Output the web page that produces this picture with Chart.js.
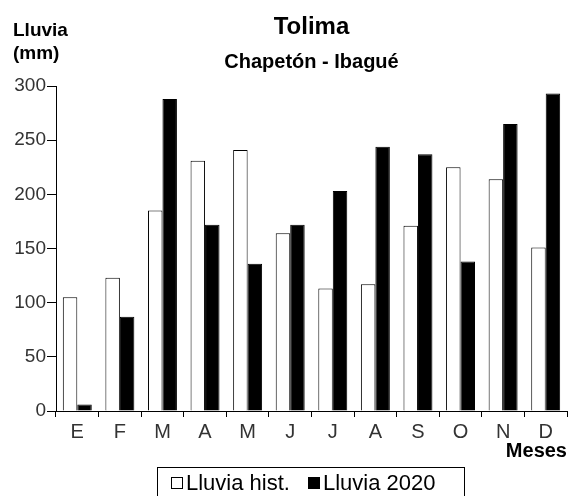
<!DOCTYPE html>
<html>
<head>
<meta charset="utf-8">
<script src="https://cdn.jsdelivr.net/npm/chart.js@4/dist/chart.umd.min.js"></script>
<style>
  html, body { margin: 0; padding: 0; background: #fff; }
  #wrap { position: relative; width: 570px; height: 496px; overflow: hidden; font-family: "Liberation Sans", Arial, sans-serif; }
  #c { position: absolute; left: 0; top: 0; }
  .txt { position: absolute; color: #000; font-weight: bold; white-space: nowrap; line-height: normal; }
  #titulo { left: 56px; width: 511px; top: 12px; text-align: center; font-size: 24px; }
  #subtitulo { left: 56px; width: 511px; top: 50px; text-align: center; font-size: 20px; }
  #ytitulo { left: 13px; top: 18px; font-size: 19px; line-height: 23px; }
  #xtitulo { right: 3px; top: 439px; font-size: 20px; }
  #leyenda { position: absolute; left: 157px; top: 467px; width: 308px; height: 40px; border: 1px solid #000;
             padding: 2px 0 0 13px; box-sizing: border-box; display: flex; align-items: flex-start; }
  .item { display: flex; align-items: center; font-size: 22px; line-height: 26px; margin-right: 18px; color: #000; }
  .caja { width: 12px; height: 12px; box-sizing: border-box; border: 1px solid #000; margin-right: 3px; }
</style>
</head>
<body>
<div id="wrap">
  <canvas id="c" width="570" height="496"></canvas>
  <div class="txt" id="titulo">Tolima</div>
  <div class="txt" id="subtitulo">Chapetón - Ibagué</div>
  <div class="txt" id="ytitulo">Lluvia<br>(mm)</div>
  <div class="txt" id="xtitulo">Meses</div>
  <div id="leyenda"></div>
</div>
<script>
// datos (mm por mes)
const meses = ["E", "F", "M", "A", "M", "J", "J", "A", "S", "O", "N", "D"];
const lluviaHist = [105, 123, 185, 231, 241, 164, 113, 117, 171, 225, 214, 151];
const lluvia2020 = [6, 87, 288, 172, 136, 172, 203, 244, 237, 138, 265, 293];
const yMax = 300;
const yPaso = 50;

const series = [
  { label: "Lluvia hist.", data: lluviaHist, fondo: "#ffffff" },
  { label: "Lluvia 2020", data: lluvia2020, fondo: "#000000" },
];

const fuente = "'Liberation Sans', Arial, sans-serif";

new Chart(document.getElementById("c").getContext("2d"), {
  type: "bar",
  data: {
    labels: meses,
    datasets: series.map((s) => ({
      label: s.label,
      data: s.data,
      backgroundColor: s.fondo,
      borderColor: "#000",
      borderWidth: 1,
      barPercentage: 1,
      categoryPercentage: 0.68,
    })),
  },
  options: {
    responsive: false,
    animation: false,
    devicePixelRatio: 1,
    layout: { padding: { top: 86, right: 3, bottom: 0, left: 0 } },
    plugins: {
      legend: { display: false },
      tooltip: { enabled: false },
      title: { display: false },
    },
    scales: {
      x: {
        grid: { drawOnChartArea: false, tickLength: 6, color: "#000", offset: true },
        border: { color: "#000", width: 1 },
        ticks: { color: "#333", font: { family: fuente, size: 20 }, padding: 3, maxRotation: 0 },
        afterFit: (scale) => { scale.height = 85; },
      },
      y: {
        min: 0,
        max: yMax,
        grid: { drawOnChartArea: false, tickLength: 9, color: "#000" },
        border: { color: "#000", width: 1 },
        ticks: { stepSize: yPaso, color: "#333", font: { family: fuente, size: 19 }, padding: 1 },
        afterFit: (scale) => { scale.width = 56; },
      },
    },
  },
});

// leyenda en HTML
const leyenda = document.getElementById("leyenda");
series.forEach((s) => {
  const item = document.createElement("div");
  item.className = "item";
  const caja = document.createElement("span");
  caja.className = "caja";
  caja.style.background = s.fondo;
  item.appendChild(caja);
  item.appendChild(document.createTextNode(s.label));
  leyenda.appendChild(item);
});
</script>
</body>
</html>
